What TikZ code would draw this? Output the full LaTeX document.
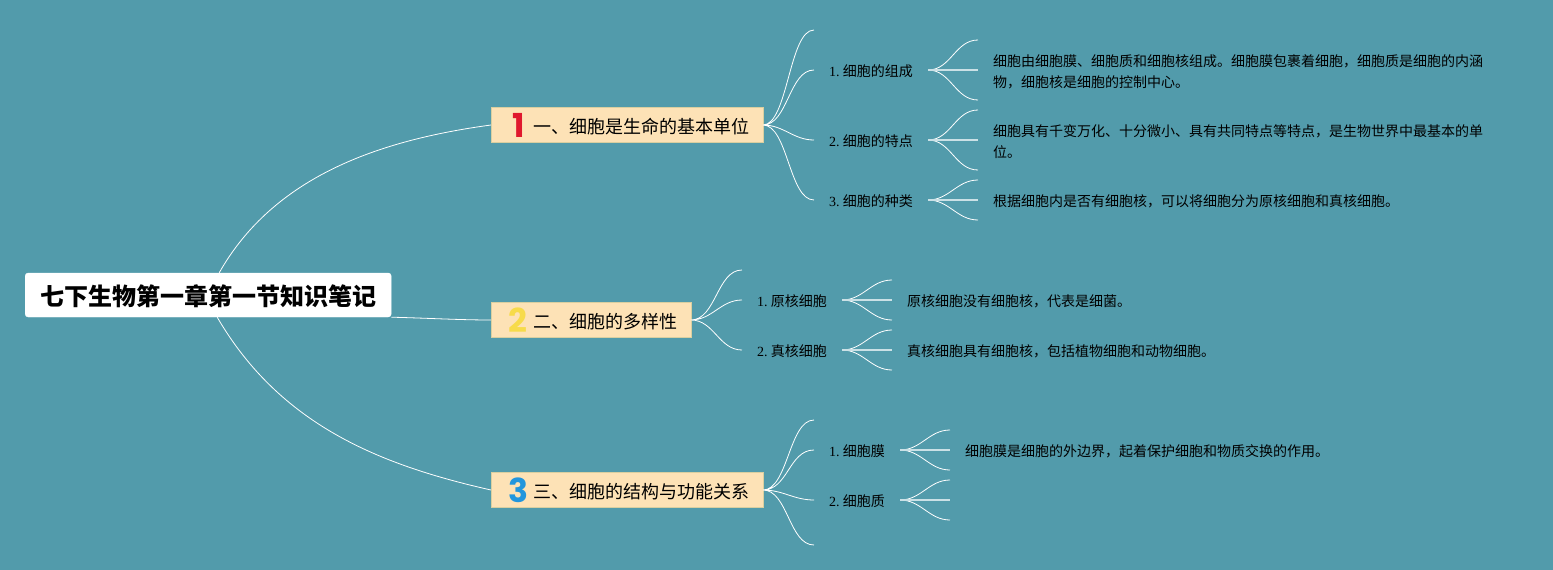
\documentclass[tikz,border=0pt]{standalone}
\usepackage{fontspec}
\setmainfont{Liberation Serif}
\newfontfamily\cjk{Noto Sans CJK SC}
\newfontfamily\numfont{Poppins}
\definecolor{bgteal}{HTML}{529BAB}
\definecolor{branchfill}{HTML}{FDE2B6}
\definecolor{branchline}{HTML}{D9CFA0}
\definecolor{numred}{HTML}{E0182D}
\definecolor{numyellow}{HTML}{F7DB4A}
\definecolor{numblue}{HTML}{2296DD}
\tikzset{
	rootbox/.style={draw=white,fill=white,rounded corners=3pt,anchor=west,inner xsep=15pt,inner ysep=0pt,minimum height=44pt,text height=21.5pt,text depth=0pt,font=\cjk\bfseries\fontsize{24}{28}\selectfont},
	branchbox/.style={draw=branchline,fill=branchfill,anchor=west,inner xsep=13.5pt,inner ysep=0pt,minimum height=35pt,text height=16.5pt,text depth=0pt,font=\cjk\fontsize{18}{22}\selectfont},
	numlabel/.style={inner sep=0pt,font=\numfont\bfseries\fontsize{33}{36}\selectfont},
	sublabel/.style={anchor=west,inner xsep=15pt,inner ysep=2pt,text height=13pt,text depth=0pt,font=\fontsize{14}{18}\selectfont},
	notelabel/.style={anchor=west,align=left,inner xsep=15pt,inner ysep=2pt,font=\cjk\fontsize{14}{21}\selectfont},
	rootwire/.style={white,line width=0.8pt},
	wire/.style={white,line width=0.8pt,out=0,in=180,max distance=25pt},
	midwire/.style={white!70!bgteal,line width=1.5pt}
}
\newcommand{\notestrut}{\rule{0pt}{15pt}}
\begin{document}
\begin{tikzpicture}[x=1pt,y=-1pt]
	\useasboundingbox (0,0) rectangle (1553,570);
	\fill[bgteal] (0,0) rectangle (1553,570);
	\node[rootbox] (root) at (25,295) {七下生物第一章第一节知识笔记};
	\node[branchbox] (b1) at (491,125) {\hspace{28.5pt}一、细胞是生命的基本单位};
	\node[branchbox] (b2) at (491,320) {\hspace{28.5pt}二、细胞的多样性};
	\node[branchbox] (b3) at (491,490) {\hspace{28.5pt}三、细胞的结构与功能关系};
	\node[numlabel,text=numred] (n1) at (519,125) {1};
	\node[numlabel,text=numyellow] (n2) at (518,320) {2};
	\node[numlabel,text=numblue] (n3) at (518,490) {3};
	\node[sublabel] (s11) at (814,70) {1.\kern3.2pt{\cjk 细胞的组成}};
	\node[sublabel] (s12) at (814,140) {2.\kern3.2pt{\cjk 细胞的特点}};
	\node[sublabel] (s13) at (814,200) {3.\kern3.2pt{\cjk 细胞的种类}};
	\node[sublabel] (s21) at (742,300) {1.\kern3.2pt{\cjk 原核细胞}};
	\node[sublabel] (s22) at (742,350) {2.\kern3.2pt{\cjk 真核细胞}};
	\node[sublabel] (s31) at (814,450) {1.\kern3.2pt{\cjk 细胞膜}};
	\node[sublabel] (s32) at (814,500) {2.\kern3.2pt{\cjk 细胞质}};
	\node[notelabel] (t11) at (978,70) {\notestrut 细胞由细胞膜、细胞质和细胞核组成。细胞膜包裹着细胞，细胞质是细胞的内涵\\物，细胞核是细胞的控制中心。};
	\node[notelabel] (t12) at (978,140) {\notestrut 细胞具有千变万化、十分微小、具有共同特点等特点，是生物世界中最基本的单\\位。};
	\node[notelabel] (t13) at (978,200) {\notestrut 根据细胞内是否有细胞核，可以将细胞分为原核细胞和真核细胞。};
	\node[notelabel] (t21) at (892,300) {\notestrut 原核细胞没有细胞核，代表是细菌。};
	\node[notelabel] (t22) at (892,350) {\notestrut 真核细胞具有细胞核，包括植物细胞和动物细胞。};
	\node[notelabel] (t31) at (950,450) {\notestrut 细胞膜是细胞的外边界，起着保护细胞和物质交换的作用。};
	\coordinate (e10) at (814,30);
	\coordinate (e20) at (742,270);
	\coordinate (e30) at (814,420);
	\coordinate (e34) at (814,545);
	\coordinate (u11) at (978,40);
	\coordinate (d11) at (978,100);
	\coordinate (u12) at (978,110);
	\coordinate (d12) at (978,170);
	\coordinate (u13) at (978,180);
	\coordinate (d13) at (978,220);
	\coordinate (u21) at (892,280);
	\coordinate (d21) at (892,320);
	\coordinate (u22) at (892,330);
	\coordinate (d22) at (892,370);
	\coordinate (u31) at (950,430);
	\coordinate (d31) at (950,470);
	\coordinate (u32) at (950,480);
	\coordinate (m32) at (950,500);
	\coordinate (d32) at (950,520);
	\draw[rootwire] ([xshift=11pt]root.north) .. controls (274,176) and (380,140) .. (b1.west);
	\draw[rootwire] (root.south east) .. controls (425,318) and (460,320) .. (b2.west);
	\draw[rootwire] ([xshift=9pt]root.south) .. controls (280,425) and (380,465) .. (b3.west);
	\draw[wire] (b1.east) to (e10) (b1.east) to (s11.west) (b1.east) to (s12.west) (b1.east) to (s13.west);
	\draw[wire] (b2.east) to (e20) (b2.east) to (s21.west) (b2.east) to (s22.west);
	\draw[wire] (b3.east) to (e30) (b3.east) to (s31.west) (b3.east) to (s32.west) (b3.east) to (e34);
	\draw[wire] (s11.east) to (u11) (s11.east) to (d11);
	\draw[wire] (s12.east) to (u12) (s12.east) to (d12);
	\draw[wire] (s13.east) to (u13) (s13.east) to (d13);
	\draw[wire] (s21.east) to (u21) (s21.east) to (d21);
	\draw[wire] (s22.east) to (u22) (s22.east) to (d22);
	\draw[wire] (s31.east) to (u31) (s31.east) to (d31);
	\draw[wire] (s32.east) to (u32) (s32.east) to (d32);
	\draw[midwire] (s11.east) -- (t11.west);
	\draw[midwire] (s12.east) -- (t12.west);
	\draw[midwire] (s13.east) -- (t13.west);
	\draw[midwire] (s21.east) -- (t21.west);
	\draw[midwire] (s22.east) -- (t22.west);
	\draw[midwire] (s31.east) -- (t31.west);
	\draw[midwire] (s32.east) -- (m32);
\end{tikzpicture}
\end{document}
